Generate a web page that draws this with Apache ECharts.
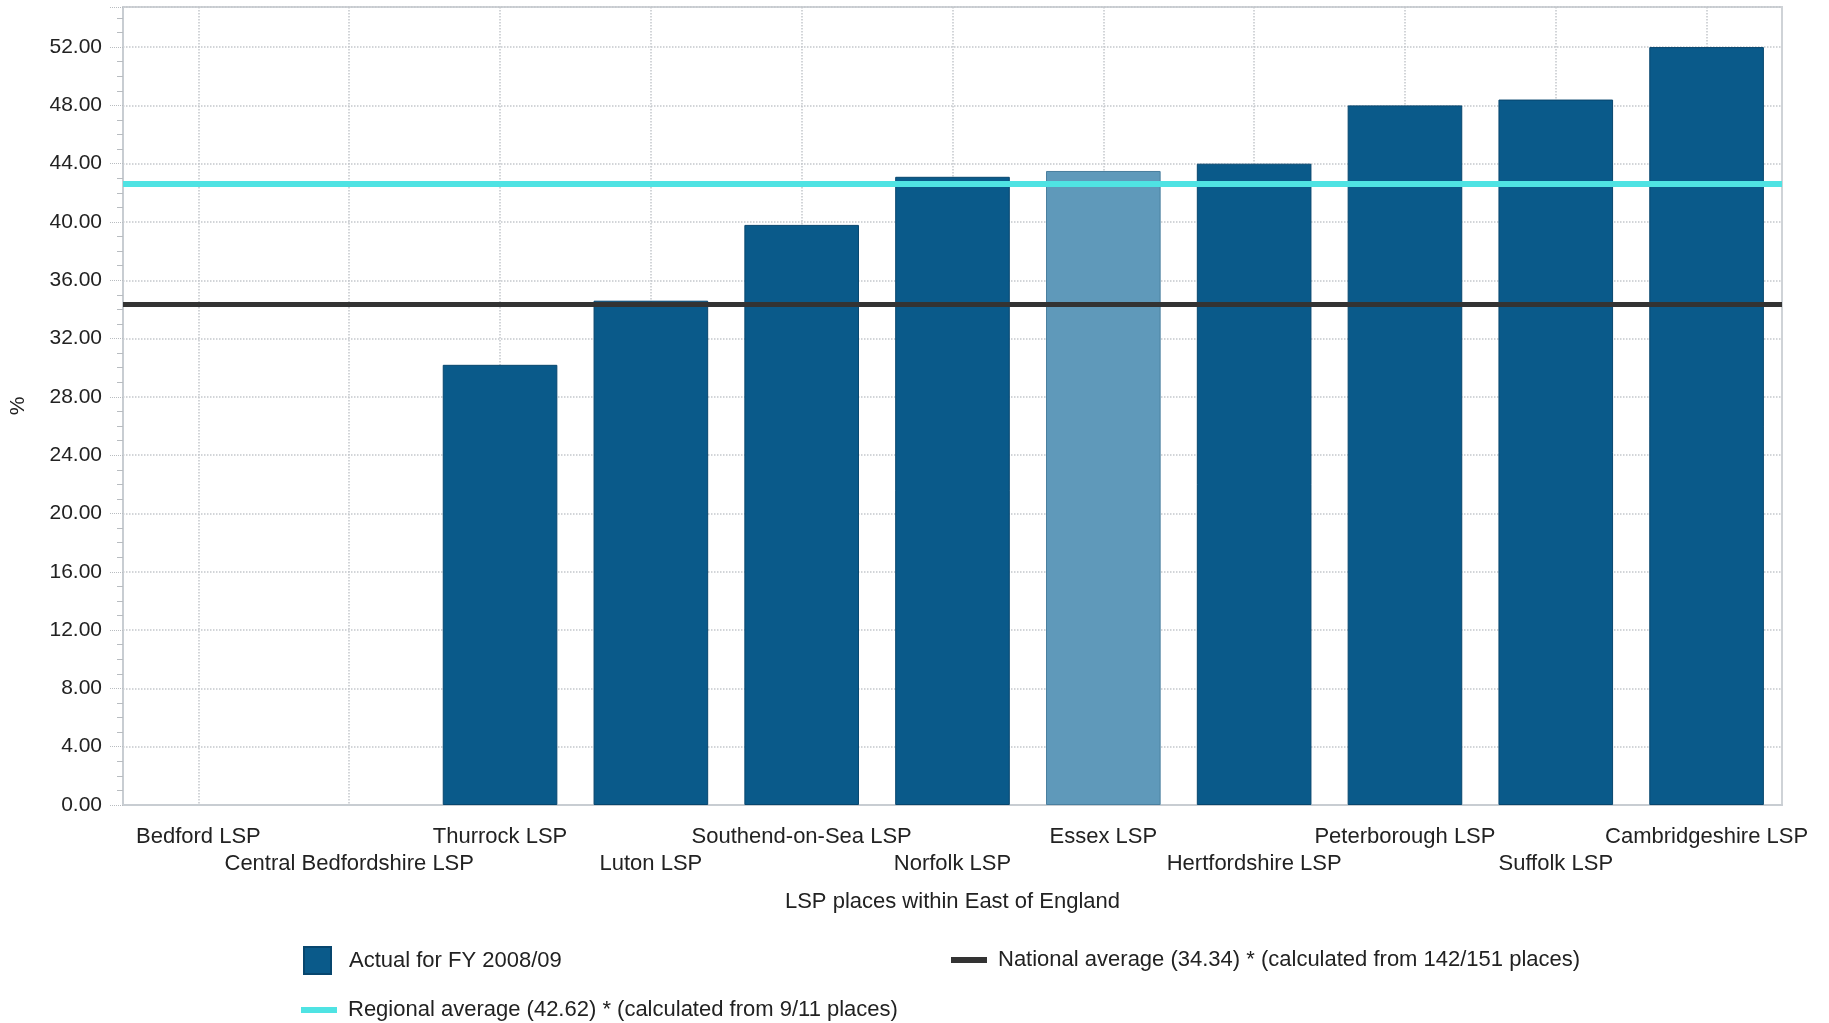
<!DOCTYPE html>
<html>
<head>
<meta charset="utf-8">
<title>LSP places within East of England</title>
<script src="https://cdn.jsdelivr.net/npm/echarts@6/dist/echarts.min.js"></script>
<style>
  html, body { margin: 0; padding: 0; background: #fff; }
  #chart-container { width: 1829px; height: 1023px; }
</style>
</head>
<body>
<div id="chart-container"></div>
<script>
var places = ['Bedford LSP', 'Central Bedfordshire LSP', 'Thurrock LSP', 'Luton LSP',
    'Southend-on-Sea LSP', 'Norfolk LSP', 'Essex LSP', 'Hertfordshire LSP',
    'Peterborough LSP', 'Suffolk LSP', 'Cambridgeshire LSP'];
var actual = [null, null, 30.2, 34.6, 39.8, 43.1, 43.5, 44.0, 48.0, 48.4, 52.0];
var highlightPlace = 'Essex LSP';
var nationalAvg = 34.34;
var regionalAvg = 42.62;

var fontFamily = '"Liberation Sans", Arial, sans-serif';
var textColor = '#222';
var barColor = '#0a5a8a';
var highlightColor = '#5f99ba';
var nationalColor = '#333333';
var regionalColor = '#4fe3e3';

var dom = document.getElementById('chart-container');
var myChart = echarts.init(dom, null, { renderer: 'canvas' });

var barData = actual.map(function (v, i) {
    if (v === null) return '-';
    if (places[i] === highlightPlace) {
        return { value: v, itemStyle: { color: highlightColor, borderColor: '#4a7f9f' } };
    }
    return v;
});

var option = {
    animation: false,
    textStyle: { fontFamily: fontFamily, color: textColor },
    grid: {
        left: 120, right: 47, top: 7, bottom: 218,
        show: true, borderColor: '#cfd3d7', borderWidth: 2
    },
    legend: [
        {
            left: 303, top: 946, padding: 0,
            itemWidth: 27, itemHeight: 27,
            textStyle: { fontSize: 22, color: textColor, padding: [0, 0, 0, 13] },
            data: [{ name: 'Actual for FY 2008/09', icon: 'rect' }]
        },
        {
            left: 951, top: 949, padding: 0,
            itemWidth: 36, itemHeight: 6,
            textStyle: { fontSize: 22, color: textColor, padding: [0, 0, 0, 6] },
            data: [{ name: 'National average (34.34) * (calculated from 142/151 places)', icon: 'rect', itemStyle: { color: nationalColor } }]
        },
        {
            left: 301, top: 999, padding: 0,
            itemWidth: 36, itemHeight: 6,
            textStyle: { fontSize: 22, color: textColor, padding: [0, 0, 0, 6] },
            data: [{ name: 'Regional average (42.62) * (calculated from 9/11 places)', icon: 'rect', itemStyle: { color: regionalColor } }]
        }
    ],
    xAxis: {
        type: 'category',
        data: places,
        name: 'LSP places within East of England',
        nameLocation: 'middle',
        nameGap: 86,
        nameTextStyle: { fontSize: 22, color: textColor },
        axisLine: { lineStyle: { color: '#c8cdd2', width: 2 } },
        axisTick: {
            alignWithLabel: true, length: 12,
            lineStyle: { color: '#b8bcc0', type: 'dotted' }
        },
        axisLabel: {
            interval: 0, fontSize: 22, color: textColor, margin: 18, lineHeight: 27,
            formatter: function (val, idx) { return idx % 2 ? '\n' + val : val; }
        },
        splitLine: {
            show: true, alignWithLabel: true,
            lineStyle: { color: '#c4c8cc', type: 'dotted', width: 1.5 }
        }
    },
    yAxis: {
        type: 'value',
        min: 0, max: 54.75, interval: 4,
        name: '%',
        nameLocation: 'middle',
        nameRotate: 90,
        nameGap: 94,
        nameTextStyle: { fontSize: 21, color: textColor },
        axisLine: { show: true, lineStyle: { color: '#c8cdd2', width: 2 } },
        axisTick: { show: true, length: 13, lineStyle: { color: '#b8bcc0', type: 'dotted' } },
        minorTick: { show: true, splitNumber: 4, length: 6, lineStyle: { color: '#b8bcc0' } },
        axisLabel: {
            fontSize: 21, color: textColor, margin: 21, showMaxLabel: false,
            formatter: function (v) { return v.toFixed(2); }
        },
        splitLine: { lineStyle: { color: '#c4c8cc', type: 'dotted', width: 1.5 } }
    },
    series: [
        {
            name: 'Actual for FY 2008/09',
            type: 'bar',
            barCategoryGap: '24%',
            itemStyle: { color: barColor, borderColor: '#07466e', borderWidth: 1 },
            data: barData
        },
        {
            name: 'National average (34.34) * (calculated from 142/151 places)',
            type: 'line',
            data: [],
            itemStyle: { color: nationalColor },
            markLine: {
                silent: true, symbol: 'none', label: { show: false },
                lineStyle: { color: nationalColor, width: 5, type: 'solid' },
                data: [{ yAxis: nationalAvg }]
            }
        },
        {
            name: 'Regional average (42.62) * (calculated from 9/11 places)',
            type: 'line',
            data: [],
            itemStyle: { color: regionalColor },
            markLine: {
                silent: true, symbol: 'none', label: { show: false },
                lineStyle: { color: regionalColor, width: 6, type: 'solid' },
                data: [{ yAxis: regionalAvg }]
            }
        }
    ]
};

if (option && typeof option === 'object') {
    myChart.setOption(option);
}

window.addEventListener('resize', myChart.resize);
</script>
</body>
</html>
